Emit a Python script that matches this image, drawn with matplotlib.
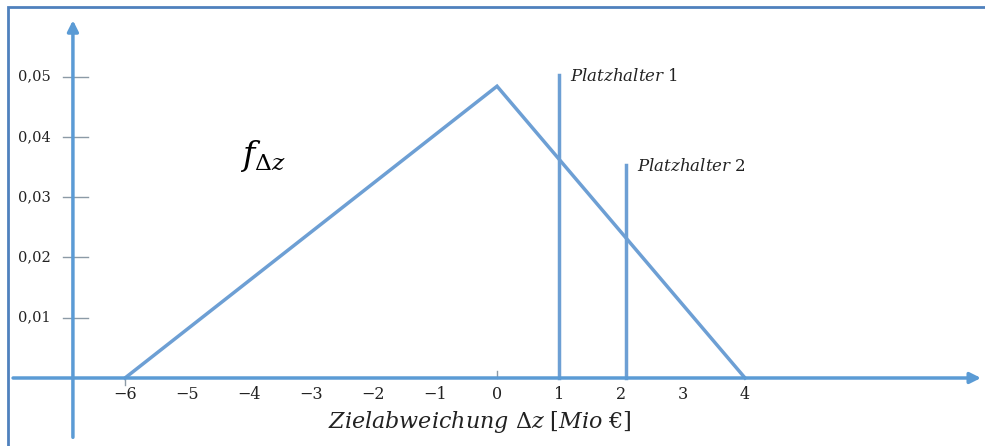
import matplotlib.pyplot as plt
from matplotlib.patches import Rectangle

plt.rcParams['mathtext.fontset'] = 'custom'
plt.rcParams['mathtext.rm'] = 'DejaVu Serif'
plt.rcParams['mathtext.it'] = 'DejaVu Serif:italic'
plt.rcParams['font.family'] = ['DejaVu Serif']

# Dreiecksverteilung f_dz
x_dist = [-6, 0, 4]
y_dist = [0, 0.0484, 0]

# Platzhalter-Linien
mark_x = [1.0, 2.08]
mark_h = [0.0502, 0.0353]
mark_labels = [r'$Platzhalter\ 1$', r'$Platzhalter\ 2$']

x_ticks = [-6, -5, -4, -3, -2, -1, 0, 1, 2, 3, 4]
x_ticklabels = ['−6', '−5', '−4', '−3', '−2', '−1', '0', '1', '2', '3', '4']
y_ticks = [0.01, 0.02, 0.03, 0.04, 0.05]
y_ticklabels = ['0,01', '0,02', '0,03', '0,04', '0,05']

line_col = '#6d9fd4'
axis_col = '#5b9bd5'

fig = plt.figure(figsize=(9.85, 4.46), dpi=100)
ax = fig.add_axes([0, 0, 1, 1])
ax.set_xlim(-8.016, 7.87)
ax.set_ylim(-0.01128, 0.0627)
ax.axis('off')

# Rahmen (nur oben und links sichtbar)
fig.patches.append(Rectangle((0.008, -0.1), 1.1, 1.084, transform=fig.transFigure,
                             fill=False, edgecolor='#4f81bd', lw=2))

# Achsen als Pfeile
ax.annotate('', xy=(7.85, 0), xytext=(-7.85, 0),
            arrowprops=dict(arrowstyle='-|>', color=axis_col, lw=2.5, mutation_scale=16))
ax.annotate('', xy=(-6.84, 0.0598), xytext=(-6.84, -0.0103),
            arrowprops=dict(arrowstyle='-|>', color=axis_col, lw=2.5, mutation_scale=16))

# y-Ticks
for yt, lab in zip(y_ticks, y_ticklabels):
    ax.plot([-7.0, -6.6], [yt, yt], color='#8c9aa6', lw=1)
    ax.text(-7.2, yt, lab, ha='right', va='center', fontsize=10.5, color='#222222')

# x-Ticks
for xt, lab in zip(x_ticks, x_ticklabels):
    ax.text(xt, -0.0028, lab, ha='center', va='center', fontsize=11.5, color='#222222')
ax.plot([-6, -6], [0, -0.0012], color='#8c9aa6', lw=1)
ax.plot([0, 0], [0, 0.0012], color='#8c9aa6', lw=1)

# Verteilung
ax.plot(x_dist, y_dist, color=line_col, lw=2.5, solid_joinstyle='miter')

for mx, mh, lab in zip(mark_x, mark_h, mark_labels):
    ax.plot([mx, mx], [0, mh], color=line_col, lw=2.5)
    ax.text(mx + 0.18, mh - 0.0002, lab, ha='left', va='center',
            fontsize=12, color='#222222')

ax.text(-3.78, 0.0368, r'$f_{\Delta z}$', ha='center', va='center', fontsize=24)
ax.text(-0.27, -0.0073, r'$Zielabweichung\ \Delta z\ [Mio\ €]$',
        ha='center', va='center', fontsize=16, color='#222222')

fig.savefig('out.png', dpi=100)
